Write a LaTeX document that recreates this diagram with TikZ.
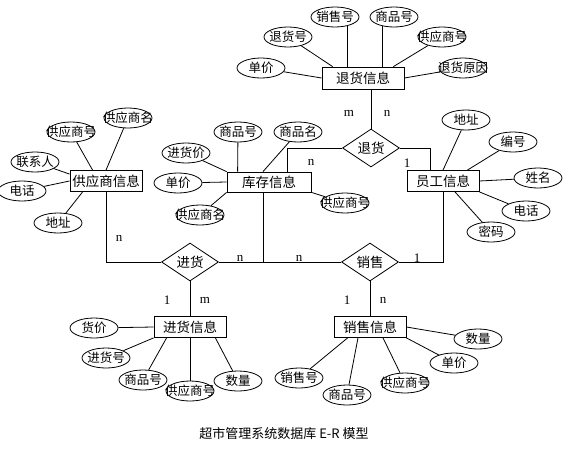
\documentclass[tikz,border=0pt]{standalone}
\usepackage{fontspec}
\setmainfont{Liberation Serif}
\newfontfamily\cjk{Noto Sans CJK SC}
\usetikzlibrary{shapes.geometric}

\def\shiti#1#2#3#4{
	\node[entity,#4] (#1) at (#2) {#3};
}
\def\shuxing#1#2#3{
	\node[attr] (#1) at (#2) {\makebox[0pt]{#3}};
}
\def\lianxi#1#2#3{
	\node[rel] (#1) at (#2) {\makebox[0pt]{#3}};
}

\begin{document}
\begin{tikzpicture}[x=1pt,y=-1pt,line width=0.8pt,
	entity/.style={draw,rectangle,inner sep=0pt,minimum width=72pt,minimum height=21pt,font=\cjk\fontsize{13.5}{13.5}\selectfont},
	attr/.style={draw,ellipse,inner sep=0pt,minimum width=48pt,minimum height=20pt,font=\cjk\fontsize{12.5}{12.5}\selectfont},
	rel/.style={draw,diamond,inner sep=0pt,minimum width=57pt,minimum height=38pt,font=\cjk\fontsize{13.5}{13.5}\selectfont},
	lbl/.style={font=\fontsize{13}{13}\selectfont}]
\useasboundingbox (0,0) rectangle (582,456);

% Entitaeten
\shiti{thxx}{363,78}{退货信息}{minimum width=82pt,minimum height=22pt}
\shiti{gysxx}{106,181}{供应商信息}{}
\shiti{kcxx}{269,182}{库存信息}{minimum width=84pt,minimum height=20pt}
\shiti{ygxx}{443,181}{员工信息}{}
\shiti{jhxx}{190,327}{进货信息}{}
\shiti{xsxx}{370,327}{销售信息}{}

% Beziehungen
\lianxi{th}{371,148}{退货}
\lianxi{jh}{190,262}{进货}
\lianxi{xs}{370,262}{销售}

% Attribute
\shuxing{th-xsh}{335,17}{销售号}
\shuxing{th-sph}{394,17}{商品号}
\shuxing{th-thh}{288,37}{退货号}
\shuxing{th-gysh}{442,37}{供应商号}
\shuxing{th-dj}{261,68}{单价}
\shuxing{th-thyy}{463,68}{退货原因}

\shuxing{gys-gysh}{71,132}{供应商号}
\shuxing{gys-gysm}{128,118}{供应商名}
\shuxing{gys-lxr}{35,162}{联系人}
\shuxing{gys-dh}{22,191}{电话}
\shuxing{gys-dz}{58,223}{地址}

\shuxing{kc-sph}{238,132}{商品号}
\shuxing{kc-spm}{298,132}{商品名}
\shuxing{kc-jhj}{186,153}{进货价}
\shuxing{kc-dj}{178,183}{单价}
\shuxing{kc-gysm}{200,215}{供应商名}
\shuxing{kc-gysh}{345,203}{供应商号}

\shuxing{yg-dz}{466,120}{地址}
\shuxing{yg-bh}{513,142}{编号}
\shuxing{yg-xm}{538,178}{姓名}
\shuxing{yg-dh}{526,211}{电话}
\shuxing{yg-mm}{491,232}{密码}

\shuxing{jh-hj}{94,328}{货价}
\shuxing{jh-jhh}{106,358}{进货号}
\shuxing{jh-sph}{143,380}{商品号}
\shuxing{jh-gysh}{190,391}{供应商号}
\shuxing{jh-sl}{238,381}{数量}

\shuxing{xs-sl}{478,339}{数量}
\shuxing{xs-dj}{454,363}{单价}
\shuxing{xs-xsh}{299,378}{销售号}
\shuxing{xs-sph}{347,395}{商品号}
\shuxing{xs-gysh}{405,383}{供应商号}

% Attributlinien
\draw (th-xsh.-36) -- (th-xsh.-36 |- thxx.north);
\draw (th-sph.-141) -- (th-sph.-141 |- thxx.north);
\draw (th-thh) -- ([xshift=11pt]thxx.north west);
\draw (th-gysh) -- ([xshift=-11pt]thxx.north east);
\draw (th-dj) -- (thxx.west);
\draw (th-thyy) -- (thxx.east);

\draw (gys-gysh) -- ([xshift=23pt]gysxx.north west);
\draw (gys-gysm) -- (gysxx.north);
\draw (gys-lxr) -- ([yshift=-4pt]gysxx.north west);
\draw (gys-dh) -- (gysxx.west);
\draw (gys-dz) -- ([xshift=13pt]gysxx.south west);

\draw (kc-sph) -- ([xshift=11pt]kcxx.north west);
\draw (kc-spm) -- ([xshift=-6pt]kcxx.north);
\draw (kc-jhj) -- (kcxx.north west);
\draw (kc-dj) -- (kcxx.west);
\draw (kc-gysm) -- (kcxx.south west);
\draw (kc-gysh) -- (kcxx.south east);

\draw (yg-dz) -- (ygxx.north);
\draw (yg-bh) -- ([xshift=-12pt]ygxx.north east);
\draw (yg-xm) -- (ygxx.east);
\draw (yg-dh) -- (ygxx.south east);
\draw (yg-mm) -- ([xshift=12pt]ygxx.south);

\draw (jh-hj) -- (jhxx.west);
\draw (jh-jhh) -- (jhxx.south west);
\draw (jh-sph) -- ([xshift=13pt]jhxx.south west);
\draw (jh-gysh) -- (jhxx.south);
\draw (jh-sl) -- ([xshift=-11pt]jhxx.south east);

\draw (xs-sl) -- (xsxx.east);
\draw (xs-dj) -- (xsxx.south east);
\draw (xs-xsh) -- ([xshift=14pt]xsxx.south west);
\draw (xs-sph) -- ([xshift=-12pt]xsxx.south);
\draw (xs-gysh) -- ([xshift=13pt]xsxx.south);

% Verbindungen
\coordinate (kcj) at (263,262);
\draw (th.north) -- (th.north |- thxx.south);
\draw (th.west) -| ([xshift=18pt]kcxx.north);
\draw (th.east) -| ([xshift=-13pt]ygxx.north);
\draw (gysxx.south) |- (jh.west);
\draw (jh.east) -- (xs.west);
\draw (kcxx.south -| kcj) -- (kcj);
\draw (xs.east) -| (ygxx.south);
\draw (jh.south) -- (jhxx.north);
\draw (xs.south) -- (xsxx.north);

% Kardinalitaeten
\node[lbl] (k1) at (349,113) {m};
\node[lbl] (k2) at (387,113) {n};
\node[lbl] (k3) at (311,162) {n};
\node[lbl] (k4) at (407,163) {1};
\node[lbl] (k5) at (119,238) {n};
\node[lbl] (k6) at (240,258) {n};
\node[lbl] (k7) at (299,258) {n};
\node[lbl] (k8) at (417,258) {1};
\node[lbl] (k9) at (167,300) {1};
\node[lbl] (k10) at (205,300) {m};
\node[lbl] (k11) at (347,300) {1};
\node[lbl] (k12) at (383,300) {n};

\node[font=\cjk\fontsize{13}{13}\selectfont] (titel) at (284,434) {超市管理系统数据库 E-R 模型};
\end{tikzpicture}
\end{document}
